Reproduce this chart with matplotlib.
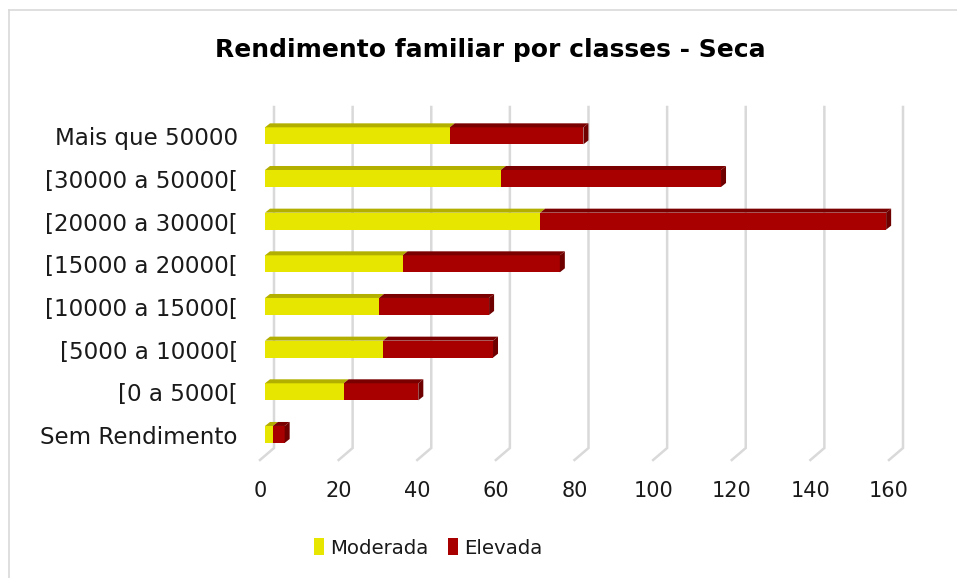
import matplotlib
matplotlib.use("Agg")
import matplotlib.pyplot as plt
from matplotlib.patches import Polygon, Rectangle, Patch
from matplotlib.lines import Line2D

# ---------------- data ----------------
categories = ["Sem Rendimento", "[0 a 5000[", "[5000 a 10000[", "[10000 a 15000[",
              "[15000 a 20000[", "[20000 a 30000[", "[30000 a 50000[", "Mais que 50000"]
moderada = [2, 20, 30, 29, 35, 70, 60, 47]
elevada = [3, 19, 28, 28, 40, 88, 56, 34]
series_names = ["Moderada", "Elevada"]
xticks = [0, 20, 40, 60, 80, 100, 120, 140, 160]
title = "Rendimento familiar por classes - Seca"

# ---------------- style ----------------
FONT = "DejaVu Sans"
plt.rcParams["font.family"] = [FONT]
front_cols = ["#E6E600", "#A80000"]
top_cols = ["#B3AF00", "#7A0000"]
side_col = "#6E0000"
grid_col = "#D9D9D9"
text_col = "#1A1A1A"

W, H = 957, 578
fig = plt.figure(figsize=(W / 100, H / 100), dpi=100)
ax_l, ax_r, ax_t, ax_b = 265, 894, 114.5, 455.8
ax = fig.add_axes([ax_l / W, 1 - ax_b / H, (ax_r - ax_l) / W, (ax_b - ax_t) / H])
ax.set_xlim(xticks[0], xticks[-1])
ax.set_ylim(-0.5, len(categories) - 0.5)
ax.axis("off")

pxx = (ax_r - ax_l) / (xticks[-1] - xticks[0])
pxy = (ax_b - ax_t) / len(categories)

# chart border (left + top only visible)
fig.add_artist(Line2D([9 / W, 9 / W], [-0.01, 1 - 10 / H], transform=fig.transFigure,
                      color=grid_col, lw=1.2))
fig.add_artist(Line2D([9 / W, 1.01], [1 - 10 / H, 1 - 10 / H], transform=fig.transFigure,
                      color=grid_col, lw=1.2))

# gridlines: back wall + floor diagonal
y_top = len(categories) - 0.5 + (ax_t - 107) / pxy
y_back_bot = -0.5 + (ax_b - 448) / pxy
y_front = -0.5 - (460 - ax_b) / pxy
for t in xticks:
    xb = t + 9 / pxx
    xf = t - 5 / pxx
    ax.plot([xb, xb, xf], [y_top, y_back_bot, y_front], color=grid_col, lw=1.8,
            clip_on=False, zorder=1, solid_joinstyle="miter")

# 3D-ish bars
h = 17 / pxy
ddx, ddy = 5 / pxx, 4 / pxy
for i, cat in enumerate(categories):
    left = 0
    vals = [moderada[i], elevada[i]]
    for s, v in enumerate(vals):
        a, b = left, left + v
        y0, y1 = i - h / 2, i + h / 2
        ax.add_patch(Rectangle((a, y0), v, h, facecolor=front_cols[s], edgecolor="none",
                               zorder=3, clip_on=False))
        ax.add_patch(Polygon([(a, y1), (b, y1), (b + ddx, y1 + ddy), (a + ddx, y1 + ddy)],
                             closed=True, facecolor=top_cols[s], edgecolor="none",
                             zorder=3, clip_on=False))
        if s == len(vals) - 1:
            ax.add_patch(Polygon([(b, y0), (b, y1), (b + ddx, y1 + ddy), (b + ddx, y0 + ddy)],
                                 closed=True, facecolor=side_col, edgecolor="none",
                                 zorder=3, clip_on=False))
        left = b

fig.canvas.draw()
renderer = fig.canvas.get_renderer()


def fit(txt, target_w):
    fs = txt.get_fontsize()
    w = txt.get_window_extent(renderer).width
    txt.set_fontsize(fs * target_w / w)


# category labels
cat_txts = []
for i, cat in enumerate(categories):
    t = ax.text(-(ax_l - 238) / pxx, i - 3 / pxy, cat, ha="right", va="center",
                fontsize=16, color=text_col, clip_on=False)
    cat_txts.append(t)
fig.canvas.draw()
fs0 = cat_txts[0].get_fontsize()
w0 = cat_txts[0].get_window_extent(renderer).width
for t in cat_txts:
    t.set_fontsize(fs0 * 197 / w0)

# tick labels
tick_txts = []
for t in xticks:
    tt = ax.text(t - 5 / pxx, -0.5 - (491 - ax_b) / pxy, str(t), ha="center", va="center",
                 fontsize=16, color=text_col, clip_on=False)
    tick_txts.append(tt)
fig.canvas.draw()
fs1 = tick_txts[-1].get_fontsize()
w1 = tick_txts[-1].get_window_extent(renderer).width
for tt in tick_txts:
    tt.set_fontsize(fs1 * 40 / w1)

# title
ttl = fig.text(490 / W, 1 - 50 / H, title, ha="center", va="center", fontsize=18,
               fontweight="bold", color="#000000")
fig.canvas.draw()
fit(ttl, 550)

# legend font fitted to "Moderada" width
probe = fig.text(0, 0, series_names[0], fontsize=16)
fig.canvas.draw()
leg_fs = 16 * 99 / probe.get_window_extent(renderer).width
probe.remove()

handles = [Patch(facecolor=front_cols[k], edgecolor="none") for k in range(2)]
leg = fig.legend(handles, series_names, loc="center", bbox_to_anchor=(428 / W, 1 - 548 / H),
                 ncol=2, frameon=False, fontsize=leg_fs, handlelength=0.5,
                 handleheight=0.9, handletextpad=0.3, columnspacing=1.0)
for tx in leg.get_texts():
    tx.set_color(text_col)

fig.savefig("out.png", dpi=100, facecolor="white")
